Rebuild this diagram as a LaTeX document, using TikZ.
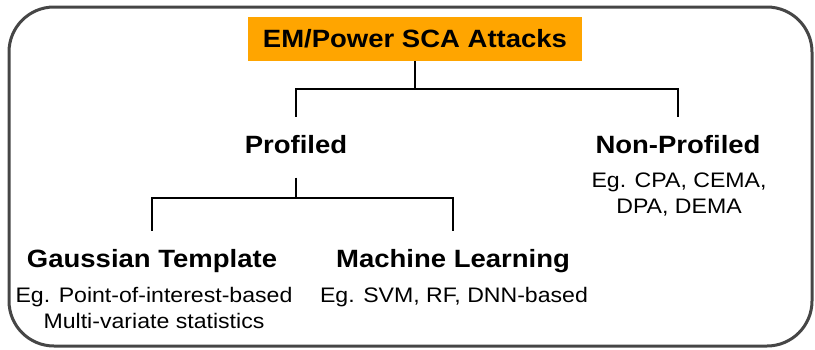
\documentclass[tikz,border=0pt]{standalone}
\usepackage{fontspec}
\setmainfont[FakeStretch=1.1]{Liberation Sans}
\usetikzlibrary{positioning}
\definecolor{rootcol}{RGB}{255,165,0}
\definecolor{framecol}{RGB}{70,70,70}

\begin{document}
\begin{tikzpicture}[x=1pt,y=-1pt,
  cat/.style={font=\fontsize{25}{30}\selectfont\bfseries,inner sep=0pt,
    text height=18pt,text depth=5pt,outer ysep=19pt},
  eg/.style={font=\fontsize{21}{26}\selectfont,align=center,inner sep=0pt,anchor=base},
  wire/.style={line width=2pt}]
\useasboundingbox (0,0) rectangle (815,349);
% outer frame
\draw[framecol,line width=3pt,rounded corners=45pt] (9,7) rectangle (812,346);
\node[fill=rootcol,font=\fontsize{25}{30}\selectfont\bfseries,
  minimum width=334pt,minimum height=44pt,inner sep=0pt] (root) at (415,39) {EM/Power SCA Attacks};
% first level
\node[cat] (prof) at (296,147) {Profiled};
\node[cat] (nonprof) at (678,147) {Non-Profiled};
\node[eg] (nonprof eg) at (679,213) {Eg. CPA, CEMA,\\DPA, DEMA};
% second level
\node[cat] (gauss) at (152,261) {Gaussian Template};
\node[cat] (ml) at (453,261) {Machine Learning};
\node[eg] (gauss eg) at (154,328) {Eg. Point-of-interest-based\\Multi-variate statistics};
\node[eg] (ml eg) at (454,302) {Eg. SVM, RF, DNN-based};
% connectors
\draw[wire] (root.south) -- ++(0,28) coordinate (top split);
\draw[wire] (prof.north) |- (top split) -| (nonprof.north);
\draw[wire] (prof.south) -- ++(0,20) coordinate (prof split);
\draw[wire] (gauss.north) |- (prof split) -| (ml.north);
\end{tikzpicture}
\end{document}
